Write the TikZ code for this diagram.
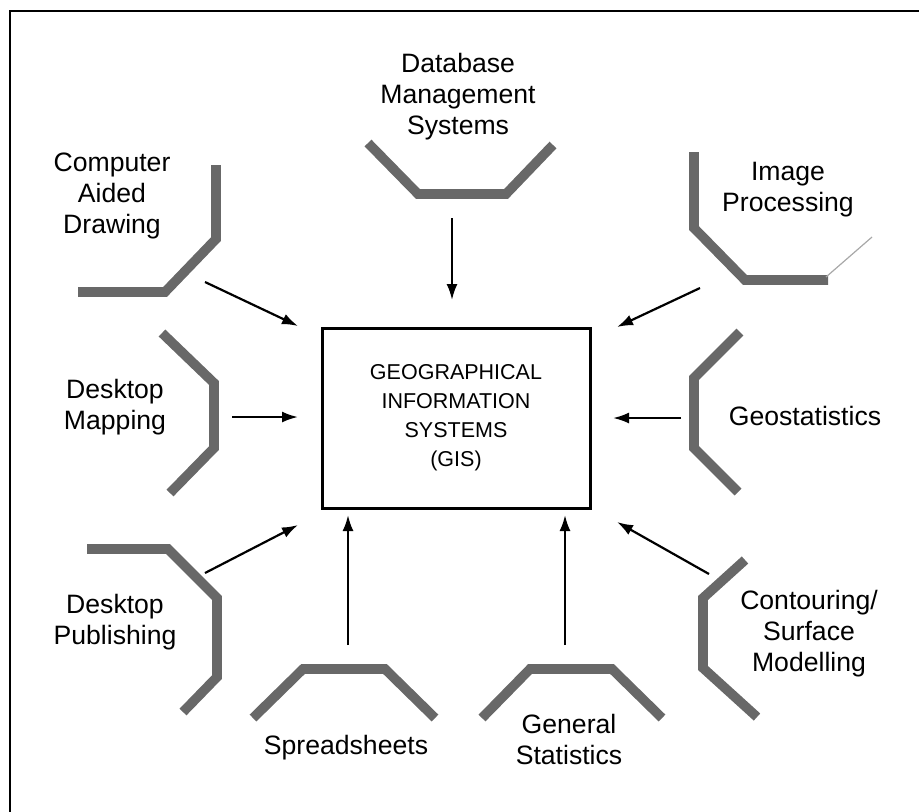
\documentclass[tikz,border=0pt]{standalone}
\usepackage{fontspec}
\setmainfont{Liberation Sans}
\usetikzlibrary{arrows.meta, positioning}
\definecolor{bracketgray}{HTML}{686868}
\definecolor{edgegray}{HTML}{A8A8A8}

\begin{document}
\begin{tikzpicture}[x=0.5pt, y=-0.5pt,
  bracket/.style={draw=bracketgray, line width=4.8pt, line join=miter, line cap=butt},
  thinedge/.style={draw=edgegray, line width=0.6pt},
  label/.style={font=\fontsize{13.3}{15.5}\selectfont, align=center, inner sep=0pt},
  feed/.style={-{Latex[length=8pt,width=5.5pt]}, line width=1.1pt}]
  \useasboundingbox (0,0) rectangle (919,811);
  % frame, runs off the page at right and bottom
  \draw[line width=1.2pt] (10,900) -- (10,11) -- (1000,11);

  % centre box
  \node[draw, line width=1.5pt, minimum width=134pt, minimum height=90pt, align=center,
        font=\fontsize{10.75}{14.5}\selectfont] (gis) at (456,418)
        {GEOGRAPHICAL\\INFORMATION\\SYSTEMS\\(GIS)};

  % the eight labels round it
  \node[label] (cad)    at (112,196) {Computer\\Aided\\Drawing};
  \node[label] (dbms)   at (458,97)  {Database\\Management\\Systems};
  \node[label] (imgp)   at (788,190) {Image\\Processing};
  \node[label] (dmap)   at (115,407) {Desktop\\Mapping};
  \node[label] (geost)  at (805,416) {Geostatistics};
  \node[label] (dpub)   at (115,622) {Desktop\\Publishing};
  \node[label] (contour) at (809,634) {Contouring/\\Surface\\Modelling};
  \node[label] (sheets) at (346,748) {Spreadsheets};
  \node[label] (gstat)  at (569,739) {General\\Statistics};

  % bracket pieces
  \draw[bracket] (216,165) -- (216,239) -- (165,292) -- (78,292);
  \draw[bracket] (368,143) -- (418,194) -- (506,194) -- (553,145);
  \draw[bracket] (694,152) -- (694,228) -- (745,280) -- (828,280);
  \draw[thinedge] (826,277) -- (872,237);
  \draw[bracket] (162,333) -- (214,383) -- (214,448) -- (170,493);
  \draw[bracket] (740,332) -- (694,378) -- (694,448) -- (738,492);
  \draw[bracket] (87,549) -- (168,549) -- (217,598) -- (217,677) -- (183,712);
  \draw[bracket] (745,560) -- (703,598) -- (703,668) -- (757,717);
  \draw[bracket] (253,718) -- (303,669) -- (385,669) -- (435,718);
  \draw[bracket] (482,718) -- (530,669) -- (612,669) -- (662,718);

  % arrow ends
  \coordinate (cad-o)  at (205,282);  \coordinate (cad-i)  at (298,326);
  \coordinate (dbms-o) at (452,218);  \coordinate (dbms-i) at (452,300);
  \coordinate (imgp-o) at (700,288);  \coordinate (imgp-i) at (617,327);
  \coordinate (dmap-o) at (232,417);  \coordinate (dmap-i) at (298,417);
  \coordinate (geo-o)  at (681,418);  \coordinate (geo-i)  at (613,418);
  \coordinate (dpub-o) at (205,573);  \coordinate (dpub-i) at (298,525);
  \coordinate (cont-o) at (709,574);  \coordinate (cont-i) at (617,522);
  \coordinate (shts-o) at (348,645);  \coordinate (shts-i) at (348,515);
  \coordinate (gst-o)  at (565,645);  \coordinate (gst-i)  at (565,515);

  \foreach \s in {cad,dbms,imgp,dmap,geo,dpub,cont,shts,gst}
    \draw[feed] (\s-o) -- (\s-i);
\end{tikzpicture}
\end{document}
